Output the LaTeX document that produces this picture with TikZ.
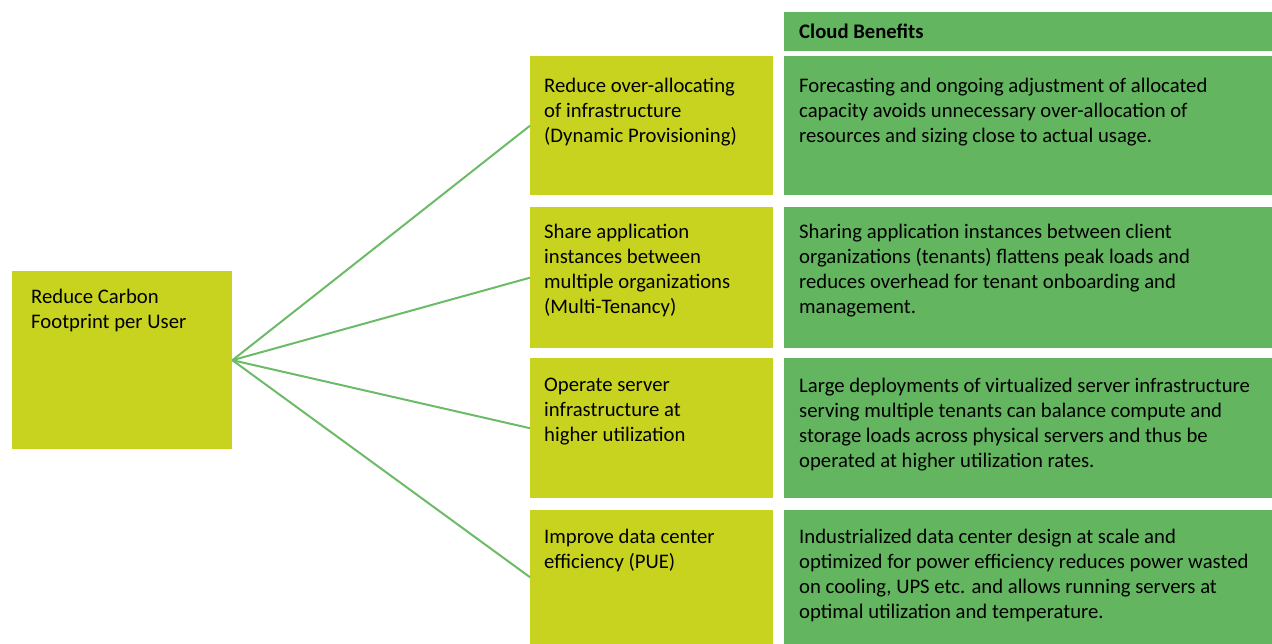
\documentclass[tikz,border=0pt]{standalone}
\usepackage{fontspec}
\setmainfont{Carlito}
\definecolor{limegreen}{HTML}{C8D320}
\definecolor{leafgreen}{HTML}{64B560}
\definecolor{linkgreen}{HTML}{6CBB68}
\begin{document}
\begin{tikzpicture}[x=1pt, y=1pt,
  lime box/.style={fill=limegreen, inner sep=0pt, anchor=north west, minimum width=243pt},
  leaf box/.style={fill=leafgreen, inner sep=0pt, anchor=north west, minimum width=488pt},
  box text/.style={anchor=north west, inner sep=0pt, align=left, font=\fontsize{20.7}{25}\selectfont, execute at begin node=\strut},
  link/.style={draw=linkgreen, line width=2pt}]
\useasboundingbox (0,0) rectangle (1272,-644);
% left box
\node[lime box, minimum width=220pt, minimum height=178pt] (root) at (12,-271) {};
\node[box text] (rootT) at ([shift={(19,-18)}]root.north west) {Reduce Carbon\\Footprint per User};
% middle boxes
\node[lime box, minimum height=139pt] (m1) at (530,-56) {};
\node[lime box, minimum height=141pt] (m2) at (530,-207) {};
\node[lime box, minimum height=140pt] (m3) at (530,-358) {};
\node[lime box, minimum height=134pt] (m4) at (530,-510) {};
\node[box text] (m1T) at ([shift={(14,-22)}]m1.north west) {Reduce over-allocating\\of infrastructure\\(Dynamic Provisioning)};
\node[box text] (m2T) at ([shift={(14,-17)}]m2.north west) {Share application\\instances between\\multiple organizations\\(Multi-Tenancy)};
\node[box text] (m3T) at ([shift={(14,-20)}]m3.north west) {Operate server\\infrastructure at\\higher utilization};
\node[box text] (m4T) at ([shift={(14,-18.5)}]m4.north west) {Improve data center\\efficiency (PUE)};
% right boxes
\node[leaf box, minimum height=39pt] (head) at (784,-12) {};
\node[box text, font=\fontsize{20.7}{25}\selectfont\bfseries] (headT) at ([shift={(15,-8.5)}]head.north west) {Cloud Benefits};
\node[leaf box, minimum height=139pt] (b1) at (784,-56) {};
\node[leaf box, minimum height=141pt] (b2) at (784,-207) {};
\node[leaf box, minimum height=140pt] (b3) at (784,-358) {};
\node[leaf box, minimum height=134pt] (b4) at (784,-510) {};
\node[box text] (b1T) at ([shift={(15,-22)}]b1.north west) {Forecasting and ongoing adjustment of allocated\\capacity avoids unnecessary over-allocation of\\resources and sizing close to actual usage.};
\node[box text] (b2T) at ([shift={(15,-17)}]b2.north west) {Sharing application instances between client\\organizations (tenants) flattens peak loads and\\reduces overhead for tenant onboarding and\\management.};
\node[box text] (b3T) at ([shift={(15,-20)}]b3.north west) {Large deployments of virtualized server infrastructure\\serving multiple tenants can balance compute and\\storage loads across physical servers and thus be\\operated at higher utilization rates.};
\node[box text] (b4T) at ([shift={(15,-18.5)}]b4.north west) {Industrialized data center design at scale and\\optimized for power efficiency reduces power wasted\\on cooling, UPS etc. and allows running servers at\\optimal utilization and temperature.};
% connectors
\foreach \m in {m1,m2,m3,m4}
  \draw[link] (root.east) -- (\m.west);
\end{tikzpicture}
\end{document}
